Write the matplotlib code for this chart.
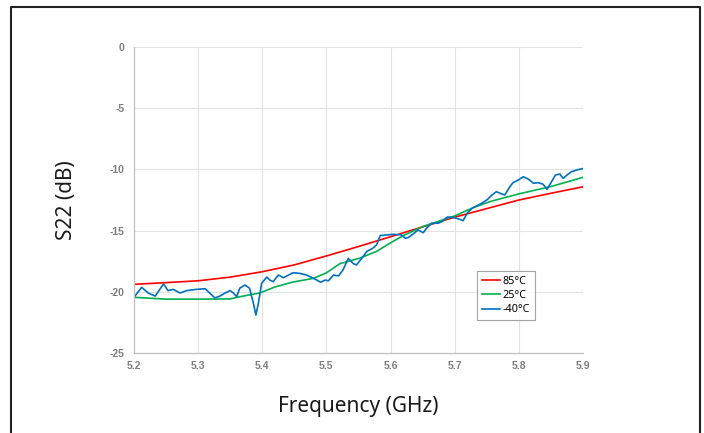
import matplotlib
matplotlib.use("Agg")
import matplotlib.pyplot as plt
from matplotlib.lines import Line2D

# ---- data ----
freq_85 = [5.2, 5.25, 5.3, 5.35, 5.4, 5.45, 5.5, 5.55, 5.6, 5.65, 5.7, 5.75, 5.8, 5.85, 5.9]
s22_85 = [-19.39, -19.25, -19.1, -18.8, -18.36, -17.8, -17.07, -16.3, -15.5, -14.7, -13.9, -13.2, -12.5, -11.95, -11.42]

freq_25 = [5.2, 5.25, 5.3, 5.35, 5.37, 5.396, 5.42, 5.448, 5.48, 5.5, 5.521, 5.552, 5.578,
           5.6, 5.62, 5.651, 5.7, 5.73, 5.757, 5.8, 5.85, 5.9]
s22_25 = [-20.45, -20.6, -20.6, -20.58, -20.35, -20.1, -19.6, -19.2, -18.9, -18.45, -17.7, -17.25, -16.7,
          -16.0, -15.4, -14.65, -13.8, -13.1, -12.6, -12.0, -11.4, -10.65]

freq_m40 = [5.200, 5.212, 5.222, 5.233, 5.246, 5.253, 5.261, 5.272, 5.282, 5.298, 5.311, 5.318, 5.326,
            5.334, 5.342, 5.350, 5.355, 5.360, 5.365, 5.373, 5.380, 5.386, 5.390, 5.394, 5.399, 5.407,
            5.412, 5.417, 5.425, 5.433, 5.441, 5.448, 5.459, 5.469, 5.480, 5.491, 5.498, 5.503, 5.511,
            5.519, 5.526, 5.534, 5.542, 5.547, 5.555, 5.563, 5.572, 5.578, 5.584, 5.594, 5.604, 5.617,
            5.623, 5.628, 5.635, 5.643, 5.651, 5.656, 5.664, 5.674, 5.680, 5.688, 5.695, 5.703, 5.708,
            5.713, 5.720, 5.727, 5.734, 5.742, 5.750, 5.758, 5.765, 5.773, 5.778, 5.786, 5.791, 5.799,
            5.807, 5.815, 5.823, 5.830, 5.837, 5.841, 5.844, 5.851, 5.857, 5.864, 5.869, 5.875, 5.882,
            5.890, 5.900]
s22_m40 = [-20.45, -19.63, -20.1, -20.35, -19.36, -19.9, -19.8, -20.1, -19.9, -19.8, -19.75, -20.1, -20.5,
           -20.35, -20.1, -19.9, -20.1, -20.4, -19.7, -19.45, -19.7, -20.9, -21.9, -20.9, -19.3, -18.8,
           -19.05, -19.17, -18.63, -18.85, -18.63, -18.44, -18.5, -18.63, -18.9, -19.22, -19.04, -19.1, -18.63,
           -18.7, -18.2, -17.27, -17.7, -17.8, -17.27, -16.7, -16.45, -16.18, -15.4, -15.36, -15.3, -15.36,
           -15.63, -15.55, -15.28, -14.95, -15.17, -14.81, -14.4, -14.4, -14.27, -13.9, -13.9, -14.0, -14.08,
           -14.19, -13.54, -13.18, -12.99, -12.77, -12.5, -12.09, -11.82, -12.0, -12.09, -11.41, -11.08, -10.87,
           -10.6, -10.8, -11.14, -11.08, -11.19, -11.41, -11.63, -11.0, -10.46, -10.38, -10.73, -10.46, -10.19,
           -10.05, -9.93]

series_labels = ["85\u00b0C", "25\u00b0C", "-40\u00b0C"]
x_ticks = [5.2, 5.3, 5.4, 5.5, 5.6, 5.7, 5.8, 5.9]
y_ticks = [0, -5, -10, -15, -20, -25]

# ---- figure ----
W, H = 704, 433
fig = plt.figure(figsize=(W / 100, H / 100), dpi=100)
ax = fig.add_axes([134 / W, 1 - 353 / H, (583 - 134) / W, (353 - 47) / H])

ax.plot(freq_85, s22_85, color="#ff0000", lw=1.2, label=series_labels[0])
ax.plot(freq_25, s22_25, color="#00b050", lw=1.2, label=series_labels[1])
ax.plot(freq_m40, s22_m40, color="#0070c0", lw=1.2, label=series_labels[2])

ax.set_xlim(5.2, 5.9)
ax.set_ylim(-25, 0)
ax.set_xticks(x_ticks)
ax.set_xticklabels([f"{v:.1f}" for v in x_ticks])
ax.set_yticks(y_ticks)
ax.set_yticklabels([str(v) for v in y_ticks])

ax.grid(True, color="#e3e3e3", lw=0.8)
ax.set_axisbelow(True)
for s in ["top", "right"]:
    ax.spines[s].set_visible(False)
for s in ["left", "bottom"]:
    ax.spines[s].set_color("#bfbfbf")
    ax.spines[s].set_linewidth(0.9)

ax.tick_params(length=0, labelsize=7.5, labelcolor="#7f7f7f")
ax.tick_params(axis="y", pad=7)
ax.tick_params(axis="x", pad=6)
for lab in ax.get_xticklabels() + ax.get_yticklabels():
    lab.set_fontweight("bold")
    lab.set_family("Liberation Sans")

ax.set_xlabel("Frequency (GHz)", fontsize=15, family="Noto Sans", color="#1a1a1a", labelpad=18)
ax.set_ylabel("S22 (dB)", fontsize=15, family="Noto Sans", color="#1a1a1a", labelpad=23)

leg = ax.legend(loc="upper left", bbox_to_anchor=((477 - 134) / 449, (353 - 271) / 306),
                frameon=True, fancybox=False, handlelength=1.7, handletextpad=0.2,
                borderpad=0.45, labelspacing=0.3, borderaxespad=0,
                prop={"family": "Noto Sans", "size": 7.8})
leg.get_frame().set_edgecolor("#8c8c8c")
leg.get_frame().set_linewidth(0.8)

# outer frame (open at bottom)
fx = [10.5 / W, 10.5 / W, 699.5 / W, 699.5 / W]
fy = [0, 1 - 6.7 / H, 1 - 6.7 / H, 0]
fig.add_artist(Line2D(fx, fy, transform=fig.transFigure, color="#222222", lw=1.5))

fig.savefig("out.png", dpi=100)
